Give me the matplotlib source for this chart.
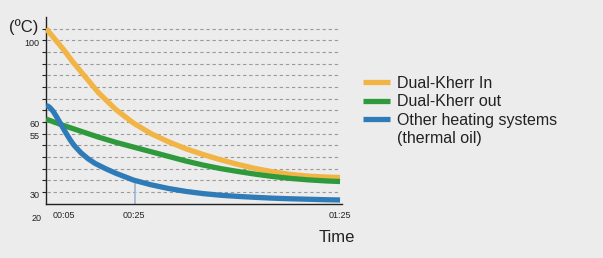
import matplotlib
matplotlib.use("Agg")
import matplotlib.pyplot as plt
from matplotlib.lines import Line2D

plt.rcParams["font.family"] = ["Liberation Sans", "DejaVu Sans"]

# time in minutes, y in gridline levels (axis = 0, top gridline = 15)
minutes = [0, 2.5, 5, 7.5, 10, 12.5, 15, 20, 25, 30, 35, 40, 45, 50, 55, 60, 65, 70, 75, 80, 84]
kherr_in = [15.0, 14.1, 13.2, 12.2, 11.3, 10.4, 9.5, 8.05, 6.9, 6.0, 5.3, 4.7, 4.2, 3.75, 3.35, 3.0,
            2.72, 2.5, 2.36, 2.28, 2.25]
kherr_out = [7.25, 6.97, 6.7, 6.45, 6.2, 5.95, 5.7, 5.25, 4.85, 4.45, 4.05, 3.65, 3.3, 3.0, 2.75,
             2.52, 2.32, 2.16, 2.04, 1.95, 1.9]

oil_minutes = [0, 0.5, 1, 1.5, 2, 3, 4, 5, 6, 7, 8, 10, 12, 14, 17, 20, 25, 30, 35, 40, 45, 50,
               55, 60, 65, 70, 75, 80, 84]
oil = [8.4, 8.36, 8.26, 8.1, 7.92, 7.45, 6.93, 6.4, 5.9, 5.42, 5.0, 4.35, 3.85, 3.45, 3.0, 2.6,
       2.02, 1.62, 1.3, 1.05, 0.86, 0.72, 0.62, 0.54, 0.47, 0.42, 0.38, 0.34, 0.32]

ytick_levels = [1, 6, 7, 14]
ytick_labels = ["30", "55", "60", "100"]
xtick_minutes = [5, 25, 84]
xtick_labels = ["00:05", "00:25", "01:25"]
marker_minute = 25.4
marker_level = 2.0

series_labels = ["Dual-Kherr In", "Dual-Kherr out", "Other heating systems"]
colors = ["#F2B444", "#2E9A3C", "#2F7BB8"]
bg = "#ECECEC"

fig = plt.figure(figsize=(6.03, 2.58), dpi=100, facecolor=bg)
ax = fig.add_axes([0.0758, 0.2105, 0.491, 0.724])
ax.set_facecolor(bg)

ax.set_xlim(-0.1, 84.5)
ax.set_ylim(0, 16.0)

for lv in range(1, 16):
    ax.plot([0.4, 84], [lv, lv], color="#9A9A9A", lw=0.8, ls=(0, (3, 2.5)), zorder=1)

ax.plot([marker_minute, marker_minute], [0, marker_level], color="#9DB7D2", lw=1.2, zorder=2)

l1, = ax.plot(minutes, kherr_in, color=colors[0], lw=3.8, solid_capstyle="butt",
              solid_joinstyle="round", zorder=3)
l2, = ax.plot(minutes, kherr_out, color=colors[1], lw=3.8, solid_capstyle="butt",
              solid_joinstyle="round", zorder=4)
l3, = ax.plot(oil_minutes, oil, color=colors[2], lw=3.8, solid_capstyle="butt",
              solid_joinstyle="round", zorder=5)

for s in ["top", "right"]:
    ax.spines[s].set_visible(False)
ax.spines["left"].set_color("#222222")
ax.spines["bottom"].set_color("#222222")
ax.spines["left"].set_linewidth(1.0)
ax.spines["bottom"].set_linewidth(1.0)

ax.set_yticks(range(1, 16))
ax.set_yticklabels([])
ax.tick_params(axis="y", length=3, width=0.8, color="#222222")
ax.set_xticks([])

for lv, lab in zip(ytick_levels, ytick_labels):
    ax.annotate(lab, xy=(0, lv), xycoords=("axes fraction", "data"),
                xytext=(-6, -3), textcoords="offset pixels",
                ha="right", va="center", fontsize=6.5, color="#222222")
ax.annotate("20", xy=(0, 0), xycoords="axes fraction", xytext=(-9, -15),
            textcoords="offset pixels", ha="center", va="center", fontsize=6.5, color="#222222")

for m, lab in zip(xtick_minutes, xtick_labels):
    ax.annotate(lab, xy=(m, 0), xycoords=("data", "axes fraction"),
                xytext=(0, -12), textcoords="offset pixels",
                ha="center", va="center", fontsize=6.5, color="#222222")

fig.text(24 / 603, 1 - 27 / 258, "(ºC)", ha="center", va="center", fontsize=12, color="#222222")
fig.text(337 / 603, 1 - 238 / 258, "Time", ha="center", va="center", fontsize=12, color="#222222")

blank = Line2D([], [], color="none")
leg = fig.legend([l1, l2, l3, blank], series_labels + ["(thermal oil)"],
                 loc="upper left", bbox_to_anchor=(363 / 603, 1 - 76 / 258),
                 frameon=False, fontsize=11.5, handlelength=1.7, handletextpad=0.4,
                 labelspacing=0.21, borderaxespad=0, borderpad=0)
for t in leg.get_texts():
    t.set_color("#222222")

fig.savefig("out.png", dpi=100, facecolor=bg)
